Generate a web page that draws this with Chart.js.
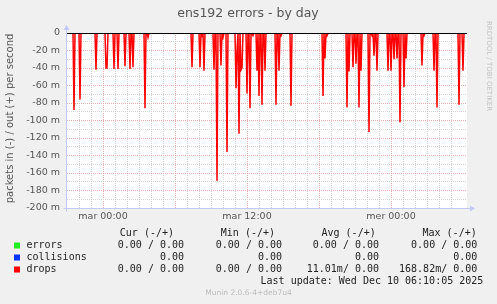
<!DOCTYPE html>
<html><head><meta charset="utf-8">
<script src="https://cdn.jsdelivr.net/npm/chart.js@4"></script>
<style>html,body{margin:0;padding:0;background:#f0f0f0;overflow:hidden}canvas{display:block}</style>
</head><body>
<canvas id="c" width="497" height="304" style="width:497px;height:304px"></canvas>
<script>
const chartTitle = 'ens192 errors - by day';
const yTitle = 'packets in (-) / out (+) per second';
const sideText = 'RRDTOOL / TOBI OETIKER';
const footerText = 'Munin 2.0.6-4+deb7u4';
const lastUpdate = 'Last update: Wed Dec 10 06:10:05 2025';

// 5-minute samples, index 0 = Mon 21:00
const nSamples = 400;
const xTickIdx = [36, 180, 324];
const xTickLabels = ['mar 00:00', 'mar 12:00', 'mer 00:00'];
const yMin = -200, yMax = 0;

// drops (in, shown negative), milli-packets/s, at sample indices
const dropIdx = [7, 13, 29, 39, 40, 47, 51, 58, 63, 66, 78, 81, 125, 133, 135, 137, 147, 150, 154, 156, 160, 169, 170, 172, 174, 175, 180, 183, 186, 190, 192, 195, 198, 209, 212, 214, 224, 256, 258, 260, 280, 282, 286, 289, 292, 294, 302, 305, 307, 310, 321, 324, 327, 330, 333, 337, 339, 355, 357, 367, 370, 392, 396];
const dropVal = [-88, -76, -42, -40, -40, -41, -41, -38, -41, -39, -86, -5, -39, -39, -3, -43, -42, -168.82, -37, -5, -136, -63, -20, -115, -42, -40, -69, -86, -3, -43, -72, -82, -43, -82, -43, -3, -83, -72, -29, -3, -85, -44, -39, -35, -85, -43, -113, -3, -26, -43, -43, -43, -30, -29, -102, -62, -29, -37, -3, -43, -85, -82, -43];
const errorsVal = 0;
const collisionsVal = 0;

const seriesNames = ['errors', 'collisions', 'drops'];
const seriesColors = ['#22ee22', '#0033ff', '#ff0000'];
const headers = ['Cur (-/+)', 'Min (-/+)', 'Avg (-/+)', 'Max (-/+)'];
const curCol = ['0.00 / 0.00', '0.00', '0.00 / 0.00'];
const minCol = ['0.00 / 0.00', '0.00', '0.00 / 0.00'];
const avgCol = ['0.00 / 0.00', '0.00', '11.01m/ 0.00'];
const maxCol = ['0.00 / 0.00', '0.00', '168.82m/ 0.00'];

// build tables for the library
const dropsSeries = [];
const errorsSeries = [];
const collisionsSeries = [];
for (let i = 0; i < nSamples; i++) {
  const k = dropIdx.indexOf(i);
  dropsSeries.push({x: i, y: k >= 0 ? dropVal[k] : 0});
  errorsSeries.push({x: i, y: errorsVal});
  collisionsSeries.push({x: i, y: collisionsVal});
}

const GRID_GRAY = '#d6d6d6';
const GRID_RED = '#e8b0b0';
const AXIS = '#c4c8f4';

const decor = {
  id: 'decor',
  beforeDraw(chart) {
    const {ctx, chartArea: a} = chart;
    ctx.save();
    ctx.fillStyle = '#f0f0f0';
    ctx.fillRect(0, 0, chart.width, chart.height);
    ctx.fillStyle = '#ffffff';
    ctx.fillRect(a.left, a.top, a.right - a.left, a.bottom - a.top);
    ctx.restore();
  },
  afterDatasetsDraw(chart) {
    const {ctx, chartArea: a, scales} = chart;
    ctx.save();
    const y0 = Math.round(scales.y.getPixelForValue(0)) + 0.5;
    ctx.strokeStyle = '#000000';
    ctx.lineWidth = 1;
    ctx.beginPath(); ctx.moveTo(a.left, y0); ctx.lineTo(a.right, y0); ctx.stroke();
    ctx.strokeStyle = AXIS; ctx.fillStyle = AXIS;
    const ax = a.left - 0.5, ay = a.bottom + 0.5;
    ctx.beginPath(); ctx.moveTo(ax, ay + 3); ctx.lineTo(ax, a.top - 4); ctx.stroke();
    ctx.beginPath(); ctx.moveTo(ax - 3, a.top - 3); ctx.lineTo(ax + 3, a.top - 3); ctx.lineTo(ax, a.top - 8); ctx.closePath(); ctx.fill();
    ctx.beginPath(); ctx.moveTo(ax - 3, ay); ctx.lineTo(a.right + 4, ay); ctx.stroke();
    ctx.beginPath(); ctx.moveTo(a.right + 3, ay - 3); ctx.lineTo(a.right + 3, ay + 3); ctx.lineTo(a.right + 8, ay); ctx.closePath(); ctx.fill();
    ctx.restore();
  },
  afterDraw(chart) {
    const {ctx} = chart;
    ctx.save();
    ctx.textBaseline = 'middle';
    ctx.fillStyle = '#555555';
    ctx.font = '12.5px "DejaVu Sans"';
    ctx.textAlign = 'center';
    ctx.fillText(chartTitle, 248, 13.5);
    ctx.save();
    ctx.translate(10, 118.5);
    ctx.rotate(-Math.PI / 2);
    ctx.font = '10px "DejaVu Sans"';
    ctx.fillText(yTitle, 0, 0);
    ctx.restore();
    ctx.save();
    ctx.translate(489, 66);
    ctx.rotate(Math.PI / 2);
    ctx.fillStyle = '#c4c4c4';
    ctx.font = '7px "DejaVu Sans"';
    ctx.fillText(sideText, 0, 0);
    ctx.restore();
    ctx.font = '10px "DejaVu Sans Mono"';
    ctx.fillStyle = '#222222';
    ctx.textAlign = 'right';
    const hx = [174, 275, 375.7, 476.7];
    headers.forEach((h, i) => ctx.fillText(h, hx[i], 233.5));
    const vx = [184, 282, 379, 477.3];
    const rowsY = [245.5, 257.5, 269.5];
    seriesNames.forEach((n, r) => {
      const y = rowsY[r];
      ctx.fillStyle = seriesColors[r];
      ctx.fillRect(14, y - 3, 6, 6);
      ctx.fillStyle = '#222222';
      ctx.textAlign = 'left';
      ctx.fillText(n, 26.5, y);
      ctx.textAlign = 'right';
      [curCol, minCol, avgCol, maxCol].forEach((col, c) => ctx.fillText(col[r], vx[c], y));
    });
    ctx.fillText(lastUpdate, 483.3, 281.7);
    ctx.textAlign = 'center';
    ctx.fillStyle = '#bbbbbb';
    ctx.font = '7.5px "DejaVu Sans"';
    ctx.fillText(footerText, 248.5, 292.7);
    ctx.restore();
  }
};

new Chart(document.getElementById('c'), {
  type: 'line',
  data: {
    datasets: [
      {label: seriesNames[0], data: errorsSeries, borderColor: seriesColors[0], borderWidth: 1, pointRadius: 0, tension: 0},
      {label: seriesNames[1], data: collisionsSeries, borderColor: seriesColors[1], borderWidth: 1, pointRadius: 0, tension: 0},
      {label: seriesNames[2], data: dropsSeries, borderColor: seriesColors[2], borderWidth: 1.5, pointRadius: 0, tension: 0}
    ]
  },
  options: {
    responsive: false,
    animation: false,
    devicePixelRatio: 1,
    events: [],
    layout: {padding: {left: 0, top: 33, right: 30, bottom: 82}},
    plugins: {legend: {display: false}, tooltip: {enabled: false}, title: {display: false}},
    scales: {
      x: {
        type: 'linear', min: 0, max: nSamples,
        afterFit(s) { s.height = 14; },
        border: {display: false, dash: [1, 1]},
        grid: {
          drawTicks: false,
          color(ctx) {
            const v = ctx.tick.value;
            if (v === 0 || v === nSamples) return 'rgba(0,0,0,0)';
            return ((v - xTickIdx[0]) % 72 === 0) ? GRID_RED : GRID_GRAY;
          }
        },
        ticks: {
          stepSize: 12, autoSkip: false, maxRotation: 0, padding: 3,
          color: '#555555', font: {family: 'DejaVu Sans', size: 9.5},
          callback(v) { const k = xTickIdx.indexOf(v); return k >= 0 ? xTickLabels[k] : ''; }
        }
      },
      y: {
        type: 'linear', min: yMin, max: yMax,
        afterFit(s) { s.width = 67; },
        border: {display: false, dash: [1, 1]},
        grid: {
          drawTicks: false,
          color(ctx) {
            const v = ctx.tick.value;
            if (v === yMin || v === yMax) return 'rgba(0,0,0,0)';
            return (v % 20 === 0) ? GRID_RED : GRID_GRAY;
          }
        },
        ticks: {
          stepSize: 10, autoSkip: false, padding: 7,
          color: '#555555', font: {family: 'DejaVu Sans', size: 9.5},
          callback(v) { if (v % 20 !== 0) return ''; return v === 0 ? '0' : v + ' m'; }
        }
      }
    }
  },
  plugins: [decor]
});
</script>
</body></html>
